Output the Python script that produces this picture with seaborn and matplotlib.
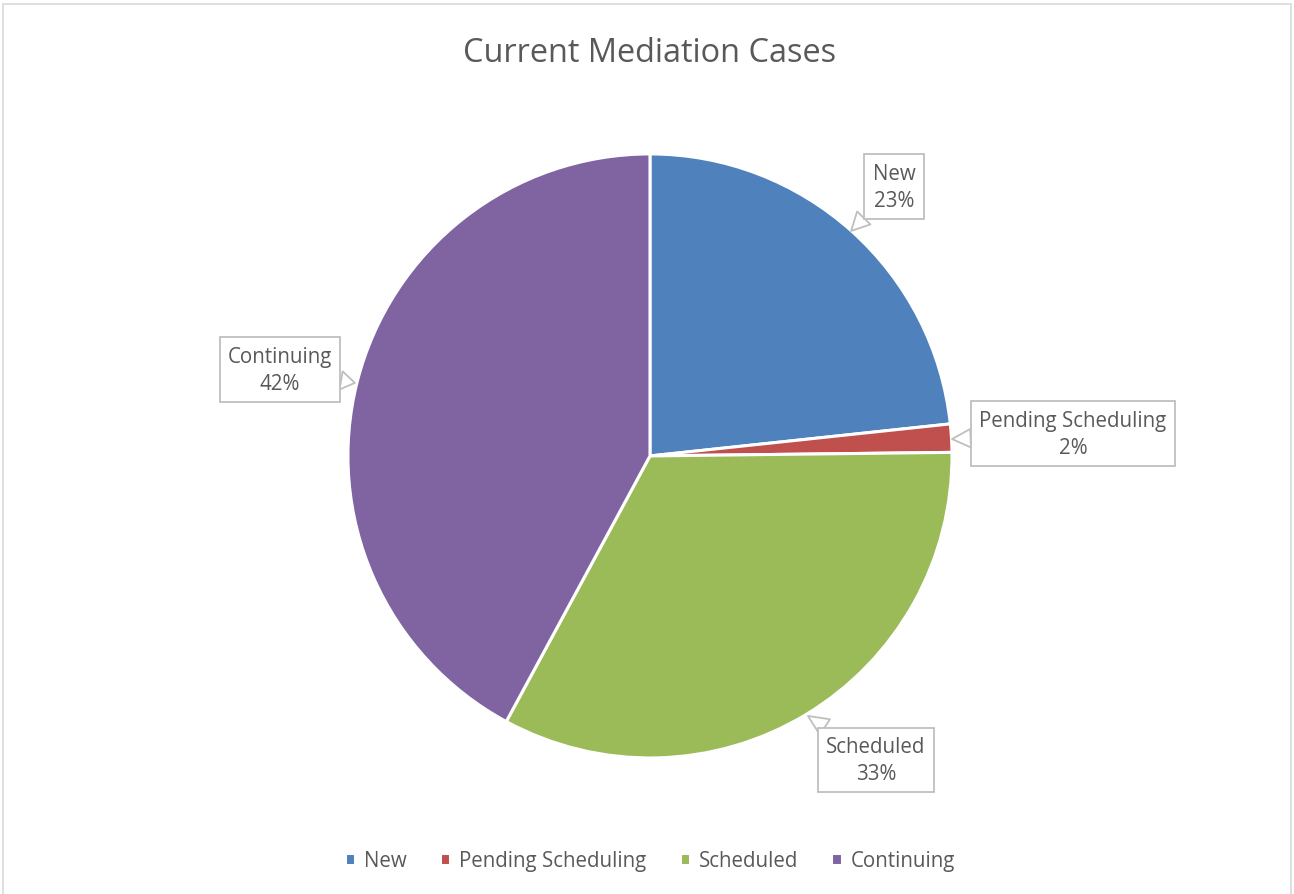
# Current Mediation Cases - pie chart with callout labels
import matplotlib
matplotlib.use('Agg')
import matplotlib.pyplot as plt
import seaborn as sns
from matplotlib.patches import Rectangle

# Data
categories = ['New', 'Pending Scheduling', 'Scheduled', 'Continuing']
case_counts = [31, 2, 44, 56]
colors = ['#4F81BD', '#C0504D', '#9BBB59', '#8064A2']
title = 'Current Mediation Cases'

sns.set_theme(style='white')
plt.rcParams['font.family'] = ['Open Sans', 'DejaVu Sans']
text_color = '#595959'
box_color = '#bfbfbf'

fig = plt.figure(figsize=(12.94, 8.95), dpi=100)
fig.patch.set_facecolor('white')

# chart border
fig.add_artist(Rectangle((3 / 1294, -0.01), 1288 / 1294, 1 - 5 / 895 + 0.01,
                         transform=fig.transFigure, fill=False,
                         edgecolor='#d9d9d9', linewidth=1.2))

ax = fig.add_axes([0.2689, 0.152, 0.4668, 0.6749])
palette = sns.color_palette(colors)
wedges, _ = ax.pie(case_counts, colors=palette, startangle=90, counterclock=False,
                   radius=1, wedgeprops=dict(edgecolor='white', linewidth=2.2))
ax.set_xlim(-1, 1)
ax.set_ylim(-1, 1)
ax.set_aspect('equal')
ax.axis('off')

# callout labels (box centre, arrow tip) in data units
total = sum(case_counts)
label_pos = [(0.808, 0.891), (1.401, 0.073), (0.748, -1.007), (-1.225, 0.285)]
tip_pos = [(0.666, 0.745), (1.0, 0.056), (0.523, -0.861), (-0.977, 0.242)]
for name, count, pos, tip in zip(categories, case_counts, label_pos, tip_pos):
    pct = f'{round(100 * count / total)}%'
    ax.annotate(f'{name}\n{pct}', xy=tip, xytext=pos, ha='center', va='center',
                fontsize=14.8, color=text_color, linespacing=1.4,
                annotation_clip=False,
                bbox=dict(boxstyle='square,pad=0.4', fc='white', ec=box_color, lw=1.3),
                arrowprops=dict(arrowstyle='wedge,tail_width=0.9,shrink_factor=0.5',
                                fc='white', ec=box_color, lw=1.3,
                                shrinkA=0, shrinkB=0))

fig.text(0.5023, 1 - 53 / 895, title, ha='center', va='center',
         fontsize=23.4, color=text_color)

fig.legend(wedges, categories, loc='center', bbox_to_anchor=(0.5023, 1 - 862 / 895),
           ncol=4, frameon=False, fontsize=14.8, labelcolor=text_color,
           handlelength=0.5, handleheight=0.5, handletextpad=0.45, columnspacing=1.6)

fig.savefig('out.png', dpi=100)
